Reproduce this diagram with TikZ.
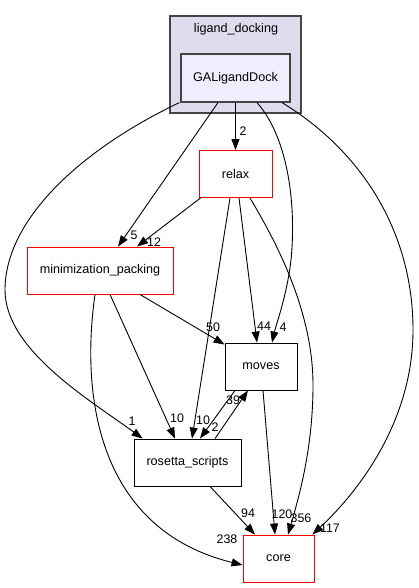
\documentclass[tikz,border=0pt]{standalone}
\usepackage{fontspec}
\setmainfont{Liberation Sans}
\usetikzlibrary{arrows.meta}
\definecolor{clfill}{HTML}{DDDDEE}
\definecolor{gafill}{HTML}{EEEEFF}
\definecolor{clborder}{HTML}{444444}
\begin{document}
\begin{tikzpicture}[x=1pt,y=-1pt,
  every node/.style={font=\fontsize{12.6}{14}\selectfont, inner sep=0pt},
  dirbox/.style={draw=black, line width=0.9pt, fill=white, minimum height=47pt},
  redbox/.style={dirbox, draw=red},
  lbl/.style={font=\fontsize{12.4}{14}\selectfont},
  dep/.style={line width=0.9pt, -{Triangle[length=11pt,width=8pt]}}]
\useasboundingbox (0,0) rectangle (418,588);
% cluster
\node[draw=clborder, line width=1.2pt, fill=clfill, minimum width=131pt, minimum height=97pt] (cluster) at (235.5,64.5) {};
\node (cllabel) at (236,29) {ligand\_docking};
\node[draw=clborder, line width=1.2pt, fill=gafill, minimum width=109pt, minimum height=48pt] (ga) at (235.5,78) {GALigandDock};
% nodes
\node[redbox, minimum width=73pt] (relax) at (235.5,174) {relax};
\node[redbox, minimum width=146pt] (mp) at (100,270.5) {minimization\_packing};
\node[dirbox, minimum width=72pt] (moves) at (261,366.5) {moves};
\node[dirbox, minimum width=107pt] (rs) at (187.5,462.5) {rosetta\_scripts};
\node[redbox, minimum width=71pt] (core) at (278.5,558.5) {core};
% edges
\draw[dep] (ga.south) -- (relax.north);
\draw[dep] ([xshift=-17.5pt]ga.south) -- ([xshift=18pt]mp.north);
\draw[dep] ([xshift=2pt]relax.south west) -- ([xshift=37pt]mp.north);
\draw[dep] ([xshift=-1pt]ga.south west) .. controls (80,150) and (5,220) .. (5,290)
  .. controls (5,350) and (90,400) .. ([xshift=9pt]rs.north west);
\draw[dep] ([xshift=21.5pt]ga.south) .. controls (290,140) and (296,210) .. (291,260)
  .. controls (287,295) and (276,325) .. ([xshift=11pt]moves.north);
\draw[dep] ([xshift=46.5pt]ga.south) .. controls (360,150) and (413,230) .. (413,330)
  .. controls (413,420) and (360,490) .. ([xshift=-2pt]core.north east);
\draw[dep] ([xshift=3.5pt]relax.south) -- ([xshift=-4pt]moves.north);
\draw[dep] ([xshift=-5.5pt]relax.south) -- ([xshift=4.5pt]rs.north);
\draw[dep] ([xshift=14.5pt]relax.south) .. controls (275,240) and (313,310) .. (313,385)
  .. controls (313,450) and (298,500) .. ([xshift=9.5pt]core.north);
\draw[dep] ([xshift=40pt]mp.south) -- ([yshift=-2pt]moves.north west);
\draw[dep] ([xshift=10pt]mp.south) -- ([xshift=-12.5pt]rs.north);
\draw[dep] ([xshift=-5pt]mp.south) .. controls (80,400) and (100,530) .. ([yshift=-6.5pt]core.west);
\draw[dep] ([xshift=-26pt]moves.south) -- ([xshift=12.5pt]rs.north);
\draw[dep] ([xshift=27.5pt]rs.north) -- ([xshift=-13pt]moves.south);
\draw[dep] ([xshift=2pt]moves.south) -- ([xshift=-3.5pt]core.north);
\draw[dep] ([xshift=22.5pt]rs.south) -- ([xshift=-23.5pt]core.north);
% labels
\node[lbl] (l1) at (243,131) {2};
\node[lbl] (l2) at (134,235) {5};
\node[lbl] (l3) at (154,242) {12};
\node[lbl] (l4) at (132,421) {1};
\node[lbl] (l5) at (283,327) {4};
\node[lbl] (l6) at (264,326) {44};
\node[lbl] (l7) at (213,327) {50};
\node[lbl] (l8) at (177,418) {10};
\node[lbl] (l9) at (203,420) {10};
\node[lbl] (l10) at (215,427) {2};
\node[lbl] (l11) at (233,400) {39};
\node[lbl] (l12) at (330,528) {117};
\node[lbl] (l13) at (301,518) {356};
\node[lbl] (l14) at (282,514) {120};
\node[lbl] (l15) at (248,513) {94};
\node[lbl] (l16) at (227,539) {238};
\end{tikzpicture}
\end{document}
